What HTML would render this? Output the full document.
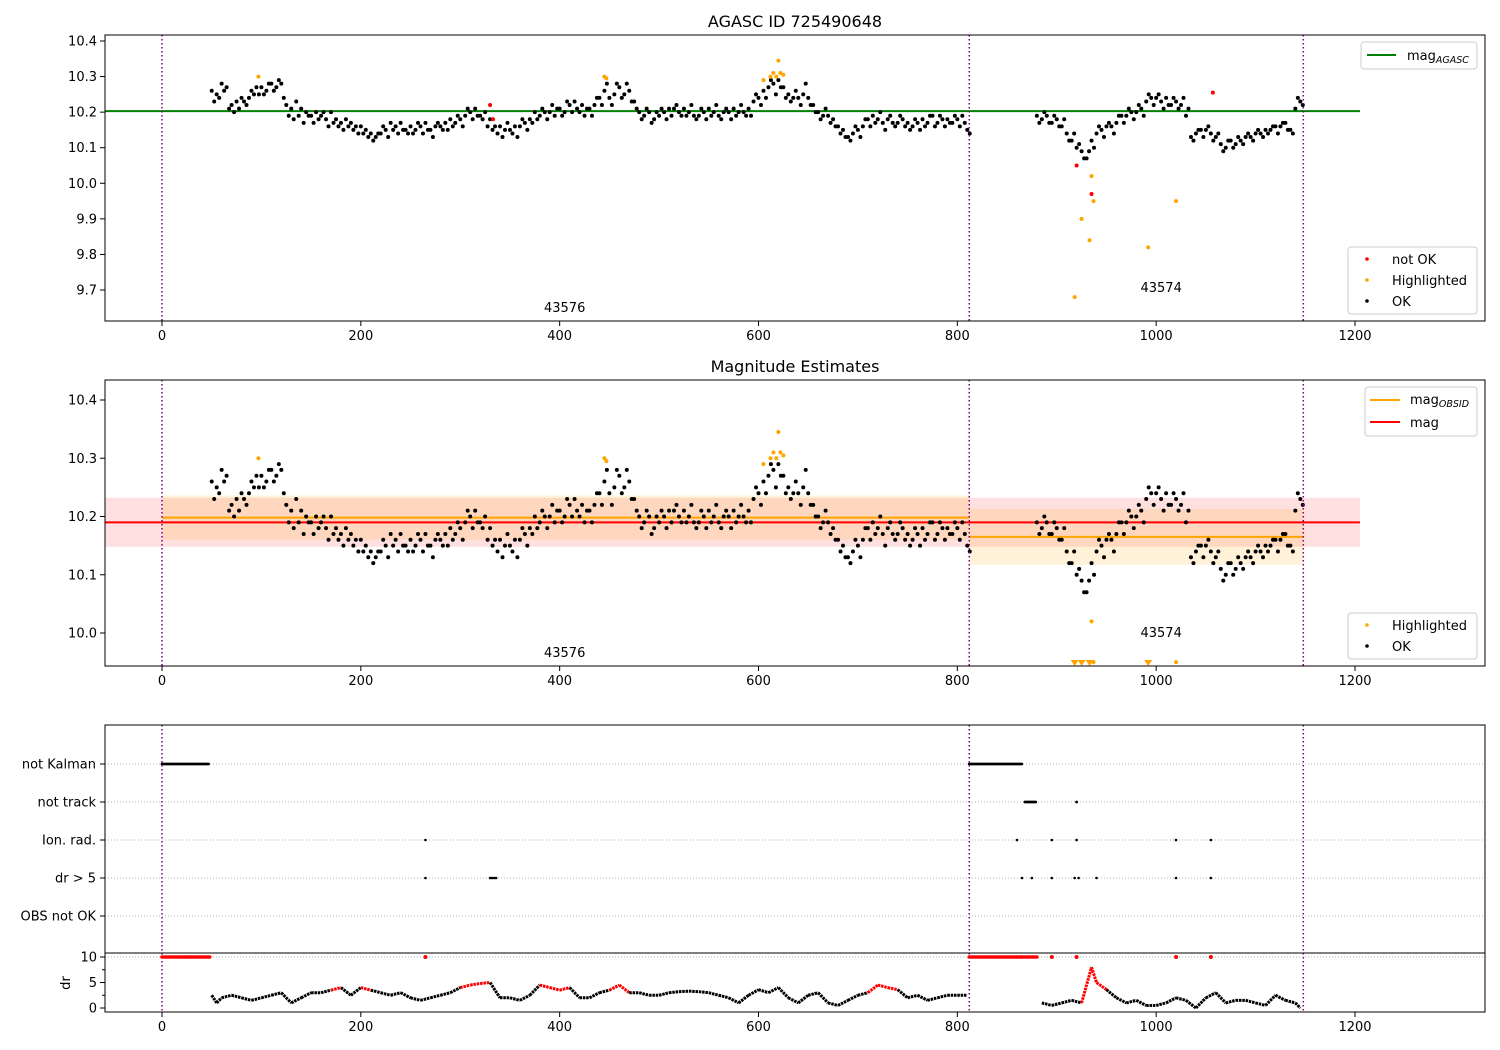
<!DOCTYPE html>
<html><head><meta charset="utf-8">
<style>
body{margin:0;background:#fff;}
svg{display:block;font-family:"DejaVu Sans","Liberation Sans",sans-serif;}
</style></head>
<body>
<svg id="chart" width="1500" height="1050" viewBox="0 0 1500 1050" xmlns="http://www.w3.org/2000/svg"></svg>
<script>
// ---- data ----
const seg1Start = 50, seg1Step = 5;
const seg1Mag = [10.26,10.25,10.28,10.27,10.22,10.23,10.24,10.22,10.26,10.27,
10.27,10.26,10.28,10.27,10.28,10.22,10.21,10.23,10.21,10.20,
10.19,10.20,10.19,10.18,10.20,10.18,10.17,10.18,10.17,10.16,
10.16,10.15,10.14,10.13,10.14,10.15,10.17,10.16,10.17,10.15,
10.16,10.15,10.16,10.17,10.15,10.16,10.16,10.17,10.18,10.17,
10.18,10.19,10.20,10.21,10.19,10.20,10.18,10.16,10.16,10.15,
10.15,10.16,10.16,10.17,10.18,10.20,10.19,10.20,10.20,10.19,
10.21,10.20,10.22,10.23,10.20,10.19,10.21,10.22,10.24,10.26,
10.24,10.25,10.27,10.25,10.26,10.23,10.20,10.19,10.20,10.18,
10.19,10.20,10.21,10.21,10.20,10.21,10.20,10.19,10.19,10.20,
10.21,10.20,10.19,10.20,10.20,10.21,10.20,10.20,10.21,10.23,
10.24,10.26,10.27,10.28,10.29,10.27,10.25,10.24,10.24,10.25,
10.24,10.22,10.20,10.19,10.19,10.18,10.16,10.15,10.13,10.14,
10.15,10.16,10.18,10.19,10.18,10.17,10.18,10.17,10.17,10.18,
10.17,10.16,10.17,10.18,10.17,10.19,10.17,10.18,10.18,10.17,
10.18,10.19,10.15];
const seg1bStart = 52.5;
const seg1bMag = [10.23,10.24,10.26,10.21,10.20,10.21,10.23,10.24,10.25,10.25,
10.25,10.28,10.26,10.29,10.24,10.19,10.18,10.19,10.17,10.19,
10.17,10.18,10.20,10.16,10.17,10.16,10.15,10.16,10.15,10.14,
10.14,10.13,10.12,10.14,10.16,10.13,10.15,10.14,10.15,10.14,
10.14,10.17,10.14,10.15,10.13,10.17,10.15,10.15,10.16,10.19,
10.16,10.21,10.18,10.19,10.18,10.16,10.15,10.14,10.13,10.17,
10.14,10.13,10.18,10.15,10.17,10.18,10.21,10.18,10.22,10.21,
10.19,10.23,10.20,10.21,10.22,10.21,10.19,10.24,10.22,10.28,
10.22,10.28,10.24,10.28,10.23,10.21,10.18,10.21,10.17,10.20,
10.21,10.18,10.19,10.22,10.19,10.19,10.22,10.18,10.21,10.18,
10.19,10.22,10.18,10.21,10.18,10.19,10.22,10.19,10.19,10.25,
10.22,10.24,10.29,10.25,10.27,10.24,10.23,10.26,10.22,10.28,
10.22,10.20,10.18,10.21,10.17,10.16,10.14,10.13,10.12,10.16,
10.13,10.18,10.16,10.17,10.20,10.15,10.19,10.16,10.19,10.16,
10.15,10.18,10.15,10.16,10.19,10.16,10.19,10.16,10.17,10.19,
10.16,10.17,10.14];
const seg2Start = 880, seg2Step = 5;
const seg2Mag = [10.19,10.18,10.19,10.17,10.18,10.16,10.14,10.12,10.10,10.09,
10.07,10.12,10.14,10.15,10.16,10.16,10.17,10.19,10.19,10.20,
10.20,10.21,10.23,10.24,10.24,10.23,10.24,10.22,10.23,10.22,
10.19,10.13,10.14,10.15,10.15,10.14,10.13,10.11,10.10,10.12,
10.11,10.12,10.13,10.13,10.14,10.14,10.15,10.15,10.16,10.16,
10.17,10.15,10.21,10.23];
const seg2bStart = 882.5;
const seg2bMag = [10.17,10.20,10.17,10.19,10.16,10.18,10.12,10.14,10.11,10.07,
10.09,10.10,10.16,10.13,10.17,10.14,10.19,10.17,10.21,10.18,
10.22,10.19,10.25,10.22,10.25,10.21,10.22,10.24,10.21,10.24,
10.21,10.12,10.15,10.13,10.16,10.12,10.14,10.09,10.12,10.10,
10.13,10.11,10.14,10.12,10.15,10.13,10.14,10.16,10.14,10.17,
10.15,10.14,10.24,10.22];
const hlTimes = [97,445,447,605,612,615,618,620,622,625];
const hlMags = [10.30,10.30,10.295,10.29,10.30,10.31,10.30,10.345,10.31,10.305];
const badTimes1 = [918,925,933,935,937,992,1020];
const badMags1 = [9.68,9.90,9.84,10.02,9.95,9.82,9.95];
const notOkTimes = [330,333,920,935,1057];
const notOkMags = [10.22,10.18,10.05,9.97,10.255];
const magAgasc = 10.203;
const magMean = 10.19, magErr = 0.042;
const obsStart = [0,812], obsEnd = [812,1148];
const obsMag = [10.198,10.165], obsErr = [0.038,0.048];
const obsIds = ["43576","43574"];
const obsLabelT = [400,1000];
const flagCats = ["not Kalman","not track","Ion. rad.","dr > 5","OBS not OK"];
const flagKalman = [[0,48],[812,865]];
const flagTrack = [[868,880],[920,920]];
const flagIon = [265,860,895,920,1020,1055];
const flagDr = [265,330,332,334,336,865,875,895,918,922,940,1020,1055];
const drRedTimes = [265,895,920,1020,1055];
const drT1 = [50,55,60,70,80,90,100,110,120,130,140,150,160,170,180,190,200,210,220,230,240,250,260,270,280,290,300,310,320,330,340,350,360,370,380,390,400,410,420,430,440,450,460,470,480,490,500,510,520,530,540,550,560,570,580,590,600,610,620,630,640,650,660,670,680,690,700,710,720,730,740,750,760,770,780,790,800,810];
const drV1 = [2.5,1,2,2.5,2,1.5,2,2.5,3,1,2,3,3,3.5,4,2.5,4,3.5,3,2.5,3,2,1.5,2,2.5,3,4,4.5,4.8,5,2,2,1.5,2.5,4.5,4,3.5,4,2,2,3,3.5,4.5,3,3,2.5,2.5,3,3.2,3.3,3.2,3,2.5,2,1,2.5,3.6,3,4,2,1,2.5,3,1,0.5,1.5,2.5,3,4.5,4,3.6,2,2.5,1.5,2,2.5,2.5,2.5];
const drT2 = [885,895,905,915,925,935,940,950,960,970,980,990,1000,1010,1020,1030,1040,1050,1060,1070,1080,1090,1100,1110,1120,1130,1140,1145];
const drV2 = [1,0.5,1,1.5,1,8,5,3.6,2,1,1.5,0.5,0.5,1,2,1.5,0,2,3,1,1.5,1.5,1,0.5,2.5,1.5,1,0];
const xTicks = [0,200,400,600,800,1000,1200];
const y1Ticks = [9.7,9.8,9.9,10.0,10.1,10.2,10.3,10.4];
const y2Ticks = [10.0,10.1,10.2,10.3,10.4];
const drTicks = [0,5,10];

// ---- helpers ----
const svg = document.getElementById('chart');
const NS = 'http://www.w3.org/2000/svg';
function mk(tag, attrs, parent){
  const e = document.createElementNS(NS, tag);
  for (const k in attrs) e.setAttribute(k, attrs[k]);
  (parent||svg).appendChild(e);
  return e;
}
const L = 105, R = 1485;
const X = t => 162 + t * (1355-162)/1200;
const Y1 = m => 41 + (10.4 - m) * (290-41)/0.7;
const Y2 = m => 400 + (10.4 - m) * (633-400)/0.4;
const YD = d => 1008 - d * (1008-957)/10;
const catY = [764,802,840,878,916];

function frame(top, bottom, name){
  const r = mk('rect',{x:L,y:top,width:R-L,height:bottom-top,fill:'none',stroke:'#000','stroke-width':1});
  
  
}
function xAxis(bottom, name){
  const g = mk('g',{});
  
  
  xTicks.forEach(t=>{
    mk('line',{x1:X(t),x2:X(t),y1:bottom,y2:bottom+5,stroke:'#000'},g);
    const tx = mk('text',{x:X(t),y:bottom+19,'font-size':13,'text-anchor':'middle'},g);
    tx.textContent = t;
  });
}
function yAxis(ticks, fy, name, fmt){
  const g = mk('g',{});
  
  
  ticks.forEach(v=>{
    const y = fy(v);
    mk('line',{x1:L-5,x2:L,y1:y,y2:y,stroke:'#000'},g);
    const tx = mk('text',{x:L-8,y:y+4.5,'font-size':13,'text-anchor':'end'},g);
    tx.textContent = fmt(v);
  });
}
function dot(x,y,r,fill,g){ mk('circle',{cx:x,cy:y,r:r,fill:fill},g); }
function vlines(top,bottom){
  const g = mk('g',{});
  
  
  [0,812,1148].forEach(t=> mk('line',{x1:X(t),x2:X(t),y1:top,y2:bottom,stroke:'purple','stroke-width':1.5,'stroke-dasharray':'1.5,2.5'},g));
}
function title(txt,y,name){
  const t = mk('text',{x:795,y:y,'font-size':16,'text-anchor':'middle'});
  t.textContent = txt;
  
  
}
function allMags(){
  const pts=[];
  seg1Mag.forEach((m,i)=>pts.push([seg1Start+i*seg1Step,m]));
  seg1bMag.forEach((m,i)=>pts.push([seg1bStart+i*seg1Step,m]));
  seg2Mag.forEach((m,i)=>pts.push([seg2Start+i*seg2Step,m]));
  seg2bMag.forEach((m,i)=>pts.push([seg2bStart+i*seg2Step,m]));
  return pts;
}
const DR = 2;

// ---- panel 1 ----
title('AGASC ID 725490648',27,'title-agasc');
const p1 = mk('g',{}); 


mk('line',{x1:L,x2:X(1205),y1:Y1(magAgasc),y2:Y1(magAgasc),stroke:'green','stroke-width':2},p1);
allMags().forEach(p=>dot(X(p[0]),Y1(p[1]),DR,'#000',p1));
hlTimes.forEach((t,i)=>dot(X(t),Y1(hlMags[i]),DR,'orange',p1));
badTimes1.forEach((t,i)=>dot(X(t),Y1(badMags1[i]),DR,'orange',p1));
notOkTimes.forEach((t,i)=>dot(X(t),Y1(notOkMags[i]),DR,'red',p1));
vlines(35,321);
obsIds.forEach((id,i)=>{const t=mk('text',{x:X(obsLabelT[i])+5,y:i?292:312,'font-size':13,'text-anchor':'middle'});t.textContent=id;
   });
frame(35,321,'panel1-frame');
xAxis(321,'x-axis-1');
yAxis(y1Ticks,Y1,'y-axis-1',v=>v.toFixed(1));

// legends panel 1
(function(){
  const g=mk('g',{});  
  mk('rect',{x:1361,y:42,width:116,height:27,rx:3,fill:'#fff',stroke:'#ccc'},g);
  mk('line',{x1:1367,x2:1396,y1:55,y2:55,stroke:'green','stroke-width':2},g);
  const t=mk('text',{x:1407,y:60,'font-size':13},g); t.innerHTML='mag<tspan font-size="9.5" font-style="italic" dy="3">AGASC</tspan>';
  const g2=mk('g',{});  
  mk('rect',{x:1348,y:247,width:129,height:67,rx:3,fill:'#fff',stroke:'#ccc'},g2);
  [['not OK','red',259],['Highlighted','orange',280],['OK','#000',301]].forEach(e=>{
    dot(1367,e[2],1.8,e[1],g2); const tt=mk('text',{x:1392,y:e[2]+5,'font-size':13},g2); tt.textContent=e[0];});
})();

// ---- panel 2 ----
title('Magnitude Estimates',372,'title-mag-estimates');
const p2 = mk('g',{});


mk('rect',{x:L,y:Y2(magMean+magErr),width:X(1205)-L,height:Y2(magMean-magErr)-Y2(magMean+magErr),fill:'red','fill-opacity':0.12},p2);
obsStart.forEach((s,i)=>{
  mk('rect',{x:X(s),y:Y2(obsMag[i]+obsErr[i]),width:X(obsEnd[i])-X(s),height:Y2(obsMag[i]-obsErr[i])-Y2(obsMag[i]+obsErr[i]),fill:'orange','fill-opacity':0.15},p2);
});
mk('line',{x1:L,x2:X(1205),y1:Y2(magMean),y2:Y2(magMean),stroke:'red','stroke-width':2},p2);
obsStart.forEach((s,i)=> mk('line',{x1:X(s),x2:X(obsEnd[i]),y1:Y2(obsMag[i]),y2:Y2(obsMag[i]),stroke:'orange','stroke-width':2},p2));
allMags().forEach(p=>dot(X(p[0]),Y2(p[1]),DR,'#000',p2));
hlTimes.forEach((t,i)=>dot(X(t),Y2(hlMags[i]),DR,'orange',p2));
badTimes1.forEach((t,i)=>{
  if (badMags1[i] >= 9.95) dot(X(t),Y2(badMags1[i]),DR,'orange',p2);
  else { const x=X(t); mk('polygon',{points:`${x-4},660 ${x+4},660 ${x},666`,fill:'orange'},p2); }
});
vlines(380,666);
obsIds.forEach((id,i)=>{const t=mk('text',{x:X(obsLabelT[i])+5,y:i?637:657,'font-size':13,'text-anchor':'middle'});t.textContent=id;
   });
frame(380,666,'panel2-frame');
xAxis(666,'x-axis-2');
yAxis(y2Ticks,Y2,'y-axis-2',v=>v.toFixed(1));
(function(){
  const g=mk('g',{});  
  mk('rect',{x:1365,y:387,width:112,height:49,rx:3,fill:'#fff',stroke:'#ccc'},g);
  mk('line',{x1:1370,x2:1400,y1:400,y2:400,stroke:'orange','stroke-width':2},g);
  const t=mk('text',{x:1410,y:404,'font-size':13},g); t.innerHTML='mag<tspan font-size="9.5" font-style="italic" dy="3">OBSID</tspan>';
  mk('line',{x1:1370,x2:1400,y1:422,y2:422,stroke:'red','stroke-width':2},g);
  const t2=mk('text',{x:1410,y:427,'font-size':13},g); t2.textContent='mag';
  const g2=mk('g',{});  
  mk('rect',{x:1348,y:613,width:129,height:46,rx:3,fill:'#fff',stroke:'#ccc'},g2);
  [['Highlighted','orange',625],['OK','#000',646]].forEach(e=>{
    dot(1367,e[2],1.8,e[1],g2); const tt=mk('text',{x:1392,y:e[2]+5,'font-size':13},g2); tt.textContent=e[0];});
})();

// ---- panel 3 flags ----
const p3 = mk('g',{});


flagCats.forEach((c,i)=>{
  mk('line',{x1:L,x2:R,y1:catY[i],y2:catY[i],stroke:'#b0b0b0','stroke-dasharray':'1,2'},p3);
  mk('line',{x1:L-5,x2:L,y1:catY[i],y2:catY[i],stroke:'#000'},p3);
  const t=mk('text',{x:L-9,y:catY[i]+4.5,'font-size':13,'text-anchor':'end'},p3); t.textContent=c;
});
flagKalman.forEach(r=>{ for(let t=r[0];t<=r[1];t+=1.2) dot(X(t),catY[0],1.4,'#000',p3); });
flagTrack.forEach(r=>{ for(let t=r[0];t<=r[1];t+=1.2) dot(X(t),catY[1],1.4,'#000',p3); });
flagIon.forEach(t=>dot(X(t),catY[2],1.3,'#000',p3));
flagDr.forEach(t=>dot(X(t),catY[3],1.3,'#000',p3));
vlines(725,1012);
frame(725,953,'panel3-frame');

// ---- dr panel ----
const p4 = mk('g',{});


mk('line',{x1:L,x2:R,y1:YD(10),y2:YD(10),stroke:'#b0b0b0','stroke-dasharray':'1,2'},p4);
flagKalman.forEach(r=>{ for(let t=r[0];t<=r[1];t+=1.5) dot(X(t),YD(10),1.8,'red',p4); });
for(let t=865;t<=880;t+=1.5) dot(X(t),YD(10),1.8,'red',p4);
drRedTimes.forEach(t=>dot(X(t),YD(10),2,'red',p4));
function drSeries(T,V){
  for(let i=0;i<T.length-1;i++){
    if (T[i+1]-T[i] > 12) continue;
    const col = ((V[i]+V[i+1])/2 > 3.5) ? 'red' : '#000';
    mk('line',{x1:X(T[i]),y1:YD(V[i]),x2:X(T[i+1]),y2:YD(V[i+1]),stroke:col,'stroke-width':3,'stroke-dasharray':'2.5,0.8'},p4);
  }
}
drSeries(drT1,drV1);
drSeries(drT2,drV2);
mk('rect',{x:L,y:953,width:R-L,height:59,fill:'none',stroke:'#000'},p4);
xAxis(1012,'x-axis-3');
yAxis(drTicks,YD,'y-axis-dr',v=>String(v));
[2.5,7.5].forEach(v=>mk('line',{x1:L-3,x2:L,y1:YD(v),y2:YD(v),stroke:'#000'},p4));
const dl = mk('text',{x:70,y:983,'font-size':13,'text-anchor':'middle',transform:'rotate(-90 70 983)'});
dl.textContent='dr';


</script>
</body></html>
